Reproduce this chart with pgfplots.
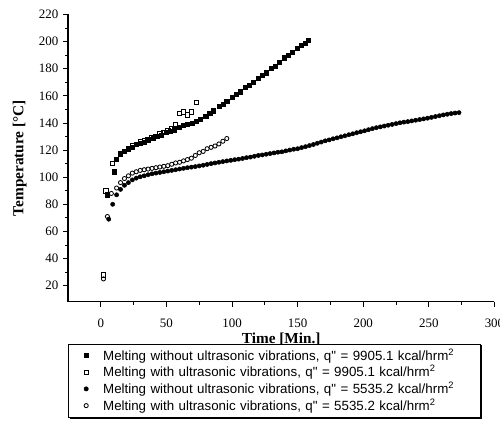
\documentclass[border=0pt]{standalone}
\usepackage{fontspec}
\setmainfont{Liberation Serif}
\newfontfamily\legfont{Liberation Sans}
\usepackage{pgfplots}
\pgfplotsset{compat=1.18}

\begin{document}
\begin{tikzpicture}
  \path[use as bounding box] (-49pt,-88pt) rectangle (311pt,217.4pt);
  \begin{axis}[
    at={(0,0)}, anchor=south west,
    scale only axis,
    width=307pt, height=207pt,
    xmin=-25, xmax=300,
    ymin=8, ymax=220,
    axis x line*=bottom,
    axis y line*=left,
    xtick={0,50,100,150,200,250,300},
    ytick={20,40,60,80,100,120,140,160,180,200,220},
    minor x tick num=1,
    minor y tick num=1,
    tick align=outside,
    major tick length=3.5pt,
    minor tick length=2pt,
    tick style={black, line width=0.6pt},
    axis line style={black, line width=0.8pt},
    tick label style={font=\fontsize{9.3}{10}\selectfont},
    /pgf/number format/assume math mode=true,
    xticklabel style={yshift=-5pt},
    xlabel={\textbf{Time [Min.]}},
    ylabel={\textbf{Temperature [\textdegree C]}},
    label style={font=\fontsize{11}{12}\selectfont},
    xlabel style={yshift=3pt},
    ylabel style={yshift=2pt},
    clip=false,
    legend style={
      name=leg,
      at={(axis description cs:0,-0.145)}, anchor=north west,
      draw=black, line width=0.5pt, fill=white,
      font=\legfont\fontsize{9.6}{10.5}\selectfont,
      row sep=-0.6pt, inner sep=2pt,
      legend cell align=left,
      nodes={text width=268pt, inner sep=1.4pt},
    },
    legend image code/.code={
      \path[draw=none, fill=none] (0cm,-0.05cm) rectangle (0.76cm,0.05cm);
      \draw[#1] plot coordinates {(0.38cm,0cm)};
    },
  ]
    % q'' = 9905.1, without ultrasonic (filled squares)
    \addplot[only marks, mark=square*, mark size=1.5pt, black] coordinates {
      (5,87) (10,104) (12,113) (15,117) (18,119) (21,121) (24,122) (27,124)
      (30,125) (33,126) (36,127) (40,129) (43,130) (46,131) (50,133) (53,134)
      (56,135) (60,137) (63,138) (66,139) (70,140) (73,141) (76,143) (80,145)
      (83,147) (86,149) (90,152) (93,154) (96,156) (100,159) (103,161) (106,163)
      (110,166) (113,168) (116,170) (120,173) (123,175) (126,177) (130,180)
      (133,182) (136,185) (140,188) (143,190) (146,192) (150,195) (153,197)
      (156,199) (158,201)
    };
    \addlegendentry{Melting without ultrasonic vibrations, q" = 9905.1 kcal/hrm\textsuperscript{2}}
    % q'' = 9905.1, with ultrasonic (open squares)
    \addplot[only marks, mark=square, mark size=1.6pt, black, mark options={fill=white, line width=0.6pt}] coordinates {
      (2,28) (4,90) (9,110) (12,113) (15,117) (18,119) (21,121) (24,123)
      (27,124) (30,126) (33,127) (36,128) (39,129) (42,130) (45,132) (48,133)
      (51,134) (54,136) (57,139) (60,147) (63,148) (66,146) (69,148) (73,155)
    };
    \addlegendentry{Melting with ultrasonic vibrations, q" = 9905.1 kcal/hrm\textsuperscript{2}}
    % q'' = 5535.2, without ultrasonic (filled circles)
    \addplot[only marks, mark=*, mark size=1.5pt, black] coordinates {
      (6,69) (9,80) (12,87) (15,91) (18,94) (21,96) (24,98) (27,99.3)
      (30,100.3) (33,101) (36,101.8) (39,102.5) (42,103) (45,103.5) (48,104)
      (51,104.5) (54,105) (57,105.5) (60,106) (63,106.5) (66,107) (69,107.4)
      (72,107.8) (75,108.3) (78,108.8) (81,109.4) (84,110) (87,110.5) (90,111)
      (93,111.5) (96,112) (99,112.4) (102,112.9) (105,113.3) (108,113.8)
      (111,114.4) (114,114.8) (117,115.4) (120,116) (123,116.4) (126,116.9)
      (129,117.4) (132,117.9) (135,118.4) (138,118.7) (141,119.4) (144,120)
      (147,120.6) (150,121) (153,121.8) (156,122.5) (159,123.3) (162,124.1)
      (165,125) (168,125.9) (171,126.8) (174,127.5) (177,128.3) (180,129)
      (183,129.8) (186,130.5) (189,131.3) (192,132) (195,132.8) (198,133.5)
      (201,134.2) (204,135) (207,135.8) (210,136.5) (213,137.1) (216,137.7)
      (219,138.3) (222,138.9) (225,139.5) (228,140.1) (231,140.6) (234,141)
      (237,141.5) (240,142) (243,142.5) (246,143) (249,143.5) (252,144.1)
      (255,144.7) (258,145.3) (261,145.9) (264,146.4) (267,146.9) (270,147.3)
      (273,147.6)
    };
    \addlegendentry{Melting without ultrasonic vibrations, q" = 5535.2 kcal/hrm\textsuperscript{2}}
    % q'' = 5535.2, with ultrasonic (open circles)
    \addplot[only marks, mark=o, mark size=1.5pt, black, mark options={fill=white, line width=0.6pt}] coordinates {
      (2,25) (5,71) (8,88) (12,92) (15,96) (18,99) (21,101) (24,103) (27,104)
      (30,105) (33,105.5) (36,106) (39,106.5) (42,107) (45,107.5) (48,108)
      (51,108.5) (54,109.5) (57,110.5) (60,111) (63,112) (66,113) (69,114)
      (72,116) (75,118) (78,119) (81,121) (84,122) (87,123) (90,124.5)
      (93,126.5) (96,128.5)
    };
    \addlegendentry{Melting with ultrasonic vibrations, q" = 5535.2 kcal/hrm\textsuperscript{2}}
  \end{axis}
  % heavier right and bottom edge of the legend box
  \draw[black, line width=1.4pt]
    ([shift={(1.2pt,-0.5pt)}]leg.south west) -- ([shift={(0.5pt,-0.5pt)}]leg.south east)
    -- ([shift={(0.5pt,-1.2pt)}]leg.north east);
\end{tikzpicture}
\end{document}
